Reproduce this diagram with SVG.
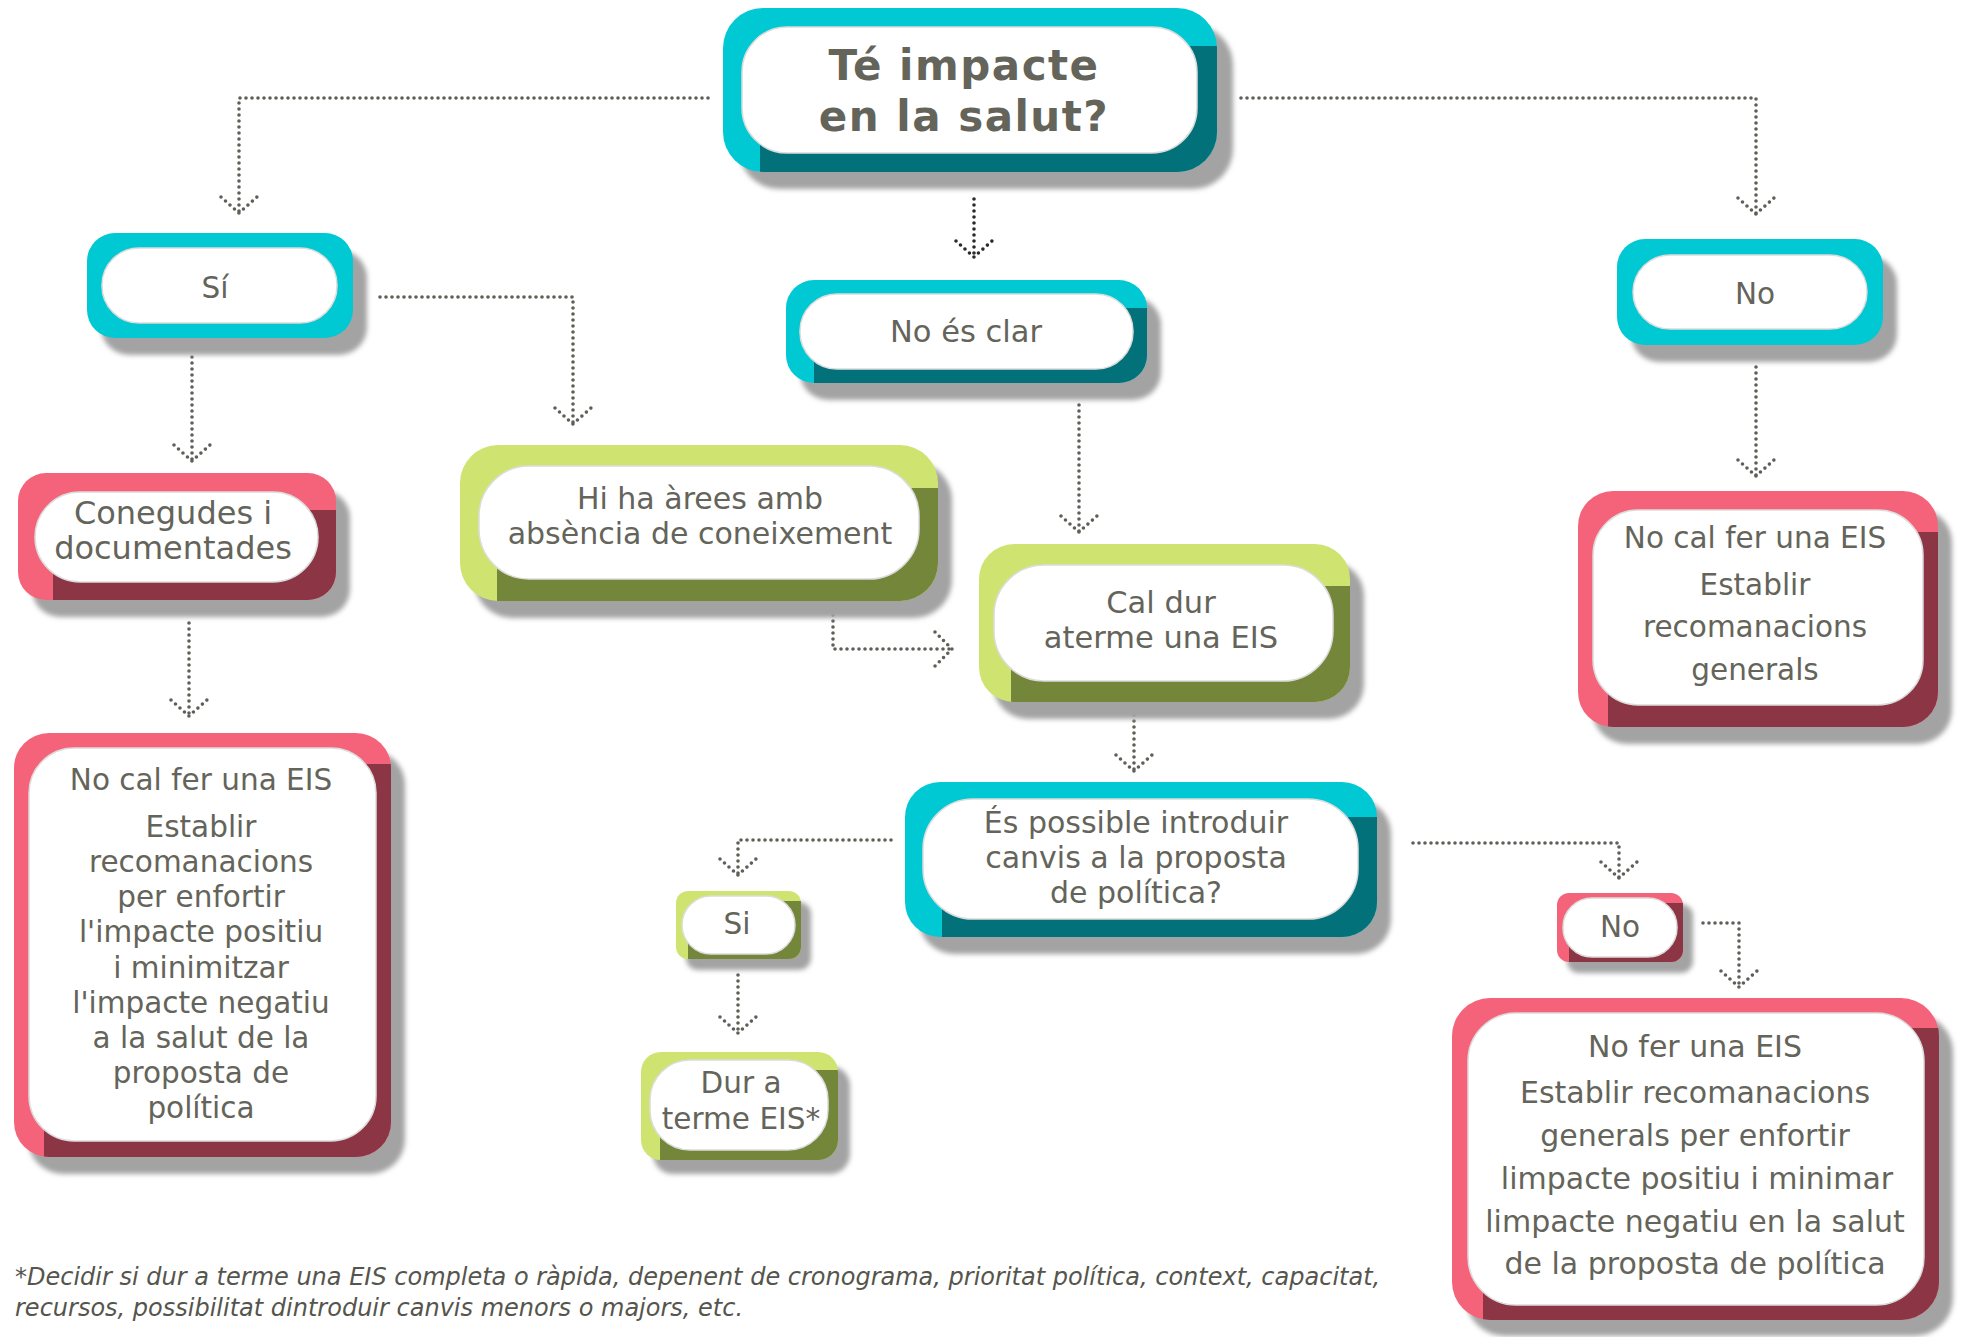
<svg xmlns="http://www.w3.org/2000/svg" width="1966" height="1337" viewBox="0 0 1966 1337">
<defs>
<style>
.bg{fill:#ffffff}
.sh{fill:#a3a3a3;filter:url(#blur)}
.teal{fill:#00c9d3}
.teald{fill:#03717a}
.pink{fill:#f5637a}
.pinkd{fill:#8c3545}
.green{fill:#cfe470}
.greend{fill:#73863a}
.pill{fill:#ffffff;stroke:#dcdcdc;stroke-width:1.5}
.lbl{font-family:"DejaVu Sans","Noto Sans",sans-serif;font-size:29.5px;fill:#64645a;text-anchor:middle}
.title{font-weight:bold;font-size:42px;letter-spacing:1.5px}
.note{font-family:"DejaVu Sans","Noto Sans",sans-serif;font-size:24px;font-style:italic;fill:#55554d}
.dot{fill:none;stroke:#5f5f58;stroke-width:3.6;stroke-linecap:round;stroke-linejoin:round;stroke-dasharray:0 6}
.dk{stroke:#2a2a28}
</style>
<filter id="blur" x="-10%" y="-10%" width="120%" height="120%"><feGaussianBlur stdDeviation="2.5"/></filter>
<clipPath id="c1"><rect x="723" y="8" width="494" height="164" rx="40"/></clipPath>
<clipPath id="c3"><rect x="18" y="473" width="318" height="127" rx="28"/></clipPath>
<clipPath id="c4"><rect x="460" y="445" width="478" height="156" rx="38"/></clipPath>
<clipPath id="c5"><rect x="786" y="280" width="361" height="103" rx="28"/></clipPath>
<clipPath id="c6"><rect x="979" y="544" width="371" height="158" rx="35"/></clipPath>
<clipPath id="c7"><rect x="905" y="782" width="472" height="155" rx="35"/></clipPath>
<clipPath id="c8"><rect x="676" y="891" width="125" height="68" rx="12"/></clipPath>
<clipPath id="c9"><rect x="641" y="1052" width="197" height="108" rx="20"/></clipPath>
<clipPath id="c11"><rect x="1578" y="491" width="360" height="236" rx="35"/></clipPath>
<clipPath id="c12"><rect x="14" y="733" width="377" height="424" rx="35"/></clipPath>
<clipPath id="c13"><rect x="1557" y="893" width="126" height="69" rx="12"/></clipPath>
<clipPath id="c14"><rect x="1452" y="998" width="487" height="322" rx="38"/></clipPath>
</defs>
<rect class="bg" x="0" y="0" width="1966" height="1337"/>

<g id="connectors">
<path class="dot" d="M708,98 H239 V213"/>
<path class="dot" d="M221,197 L239,213 L257,197"/>
<path class="dot" d="M1241,98 H1756 V214"/>
<path class="dot" d="M1738,198 L1756,214 L1774,198"/>
<path class="dot dk" d="M974,199 V257"/>
<path class="dot dk" d="M956,241 L974,257 L992,241"/>
<path class="dot" d="M380,297 H573 V424"/>
<path class="dot" d="M555,408 L573,424 L591,408"/>
<path class="dot" d="M192,357 V461"/>
<path class="dot" d="M174,445 L192,461 L210,445"/>
<path class="dot" d="M189,623 V716"/>
<path class="dot" d="M171,700 L189,716 L207,700"/>
<path class="dot" d="M1079,405 V532"/>
<path class="dot" d="M1061,516 L1079,532 L1097,516"/>
<path class="dot" d="M833,615 V649 H952"/>
<path class="dot" d="M935,632 L952,649 L935,666"/>
<path class="dot" d="M1756,367 V476"/>
<path class="dot" d="M1738,460 L1756,476 L1774,460"/>
<path class="dot" d="M1134,715 V771"/>
<path class="dot" d="M1116,755 L1134,771 L1152,755"/>
<path class="dot" d="M891,840 H738 V875"/>
<path class="dot" d="M720,859 L738,875 L756,859"/>
<path class="dot" d="M738,975 V1033"/>
<path class="dot" d="M720,1017 L738,1033 L756,1017"/>
<path class="dot" d="M1413,843 H1619 V878"/>
<path class="dot" d="M1601,862 L1619,878 L1637,862"/>
<path class="dot" d="M1703,923 H1739 V987"/>
<path class="dot" d="M1721,971 L1739,987 L1757,971"/>
</g>

<g id="n-top">
<rect class="sh" x="739" y="25" width="494" height="164" rx="40"/>
<rect class="teal" x="723" y="8" width="494" height="164" rx="40"/>
<rect class="teald" clip-path="url(#c1)" x="760" y="46" width="515" height="186" rx="45"/>
<rect class="pill" x="742" y="27" width="455" height="126" rx="45"/>
<text class="lbl title" x="964" y="80">Té impacte</text>
<text class="lbl title" x="964" y="131">en la salut?</text>
</g>

<g id="n-si">
<rect class="sh" x="101" y="250" width="266" height="105" rx="28"/>
<rect class="teal" x="87" y="233" width="266" height="105" rx="28"/>
<rect class="pill" x="102" y="248" width="235" height="75" rx="37"/>
<text class="lbl" x="215" y="298">Sí</text>
</g>

<g id="n-conegudes">
<rect class="sh" x="32" y="490" width="318" height="127" rx="28"/>
<rect class="pink" x="18" y="473" width="318" height="127" rx="28"/>
<rect class="pinkd" clip-path="url(#c3)" x="53" y="510" width="343" height="150" rx="45"/>
<rect class="pill" x="35" y="492" width="283" height="90" rx="45"/>
<text class="lbl" style="font-size:32px" x="173" y="524">Conegudes i</text>
<text class="lbl" style="font-size:32px" x="173" y="559">documentades</text>
</g>

<g id="n-hiha">
<rect class="sh" x="474" y="462" width="478" height="156" rx="38"/>
<rect class="green" x="460" y="445" width="478" height="156" rx="38"/>
<rect class="greend" clip-path="url(#c4)" x="497" y="488" width="500" height="173" rx="50"/>
<rect class="pill" x="479" y="466" width="440" height="113" rx="50"/>
<text class="lbl" style="font-size:30px" x="700" y="509">Hi ha àrees amb</text>
<text class="lbl" style="font-size:30px" x="700" y="544">absència de coneixement</text>
</g>

<g id="n-noesclar">
<rect class="sh" x="800" y="297" width="361" height="103" rx="28"/>
<rect class="teal" x="786" y="280" width="361" height="103" rx="28"/>
<rect class="teald" clip-path="url(#c5)" x="814" y="308" width="393" height="135" rx="37"/>
<rect class="pill" x="800" y="294" width="333" height="75" rx="37"/>
<text class="lbl" style="font-size:30.5px" x="966" y="342">No és clar</text>
</g>

<g id="n-caldur">
<rect class="sh" x="993" y="561" width="371" height="158" rx="35"/>
<rect class="green" x="979" y="544" width="371" height="158" rx="35"/>
<rect class="greend" clip-path="url(#c6)" x="1011" y="586" width="399" height="176" rx="50"/>
<rect class="pill" x="994" y="565" width="339" height="116" rx="50"/>
<text class="lbl" style="font-size:30.5px" x="1161" y="613">Cal dur</text>
<text class="lbl" style="font-size:30.5px" x="1161" y="648">aterme una EIS</text>
</g>

<g id="n-espossible">
<rect class="sh" x="919" y="799" width="472" height="155" rx="35"/>
<rect class="teal" x="905" y="782" width="472" height="155" rx="35"/>
<rect class="teald" clip-path="url(#c7)" x="942" y="817" width="495" height="180" rx="50"/>
<rect class="pill" x="923" y="799" width="435" height="120" rx="50"/>
<text class="lbl" style="font-size:30px" x="1136" y="833">És possible introduir</text>
<text class="lbl" style="font-size:30px" x="1136" y="868">canvis a la proposta</text>
<text class="lbl" style="font-size:30px" x="1136" y="903">de política?</text>
</g>

<g id="n-si2">
<rect class="sh" x="686" y="902" width="125" height="68" rx="12"/>
<rect class="green" x="676" y="891" width="125" height="68" rx="12"/>
<rect class="greend" clip-path="url(#c8)" x="688" y="901" width="153" height="98" rx="29"/>
<rect class="pill" x="682" y="896" width="113" height="58" rx="29"/>
<text class="lbl" x="737" y="934">Si</text>
</g>

<g id="n-durterme">
<rect class="sh" x="653" y="1066" width="197" height="108" rx="20"/>
<rect class="green" x="641" y="1052" width="197" height="108" rx="20"/>
<rect class="greend" clip-path="url(#c9)" x="660" y="1070" width="218" height="130" rx="40"/>
<rect class="pill" x="650" y="1060" width="178" height="90" rx="40"/>
<text class="lbl" x="741" y="1093">Dur a</text>
<text class="lbl" x="741" y="1129">terme EIS*</text>
</g>

<g id="n-no">
<rect class="sh" x="1631" y="256" width="266" height="106" rx="28"/>
<rect class="teal" x="1617" y="239" width="266" height="106" rx="28"/>
<rect class="pill" x="1633" y="255" width="234" height="74" rx="37"/>
<text class="lbl" x="1755" y="304">No</text>
</g>

<g id="n-nocal-right">
<rect class="sh" x="1592" y="508" width="360" height="236" rx="35"/>
<rect class="pink" x="1578" y="491" width="360" height="236" rx="35"/>
<rect class="pinkd" clip-path="url(#c11)" x="1608" y="532" width="390" height="255" rx="45"/>
<rect class="pill" x="1593" y="510" width="330" height="195" rx="45"/>
<text class="lbl" x="1755" y="548">No cal fer una EIS</text>
<text class="lbl" x="1755" y="595">Establir</text>
<text class="lbl" x="1755" y="637">recomanacions</text>
<text class="lbl" x="1755" y="680">generals</text>
</g>

<g id="n-nocal-left">
<rect class="sh" x="28" y="750" width="377" height="424" rx="35"/>
<rect class="pink" x="14" y="733" width="377" height="424" rx="35"/>
<rect class="pinkd" clip-path="url(#c12)" x="44" y="764" width="407" height="453" rx="45"/>
<rect class="pill" x="29" y="748" width="347" height="393" rx="45"/>
<text class="lbl" x="201" y="790">No cal fer una EIS</text>
<text class="lbl" x="201" y="837">Establir</text>
<text class="lbl" x="201" y="872">recomanacions</text>
<text class="lbl" x="201" y="907">per enfortir</text>
<text class="lbl" x="201" y="942">l'impacte positiu</text>
<text class="lbl" x="201" y="978">i minimitzar</text>
<text class="lbl" x="201" y="1013">l'impacte negatiu</text>
<text class="lbl" x="201" y="1048">a la salut de la</text>
<text class="lbl" x="201" y="1083">proposta de</text>
<text class="lbl" x="201" y="1118">política</text>
</g>

<g id="n-no2">
<rect class="sh" x="1567" y="904" width="126" height="69" rx="12"/>
<rect class="pink" x="1557" y="893" width="126" height="69" rx="12"/>
<rect class="pinkd" clip-path="url(#c13)" x="1569" y="903" width="154" height="99" rx="29"/>
<rect class="pill" x="1563" y="898" width="114" height="59" rx="29"/>
<text class="lbl" x="1620" y="937">No</text>
</g>

<g id="n-nofer">
<rect class="sh" x="1466" y="1014" width="487" height="322" rx="38"/>
<rect class="pink" x="1452" y="998" width="487" height="322" rx="38"/>
<rect class="pinkd" clip-path="url(#c14)" x="1483" y="1028" width="516" height="352" rx="48"/>
<rect class="pill" x="1468" y="1013" width="456" height="292" rx="48"/>
<text class="lbl" style="font-size:30px" x="1695" y="1057">No fer una EIS</text>
<text class="lbl" style="font-size:30px" x="1695" y="1103">Establir recomanacions</text>
<text class="lbl" style="font-size:30px" x="1695" y="1146">generals per enfortir</text>
<text class="lbl" style="font-size:30px" x="1697" y="1189"> limpacte positiu i minimar</text>
<text class="lbl" style="font-size:30px" x="1695" y="1232">limpacte negatiu en la salut</text>
<text class="lbl" style="font-size:30px" x="1695" y="1274">de la proposta de política</text>
</g>

<g id="footnote">
<text class="note" x="15" y="1285">*Decidir si dur a terme una EIS completa o ràpida, depenent de cronograma, prioritat política, context, capacitat,</text>
<text class="note" x="15" y="1316">recursos, possibilitat dintroduir canvis menors o majors, etc.</text>
</g>
</svg>
